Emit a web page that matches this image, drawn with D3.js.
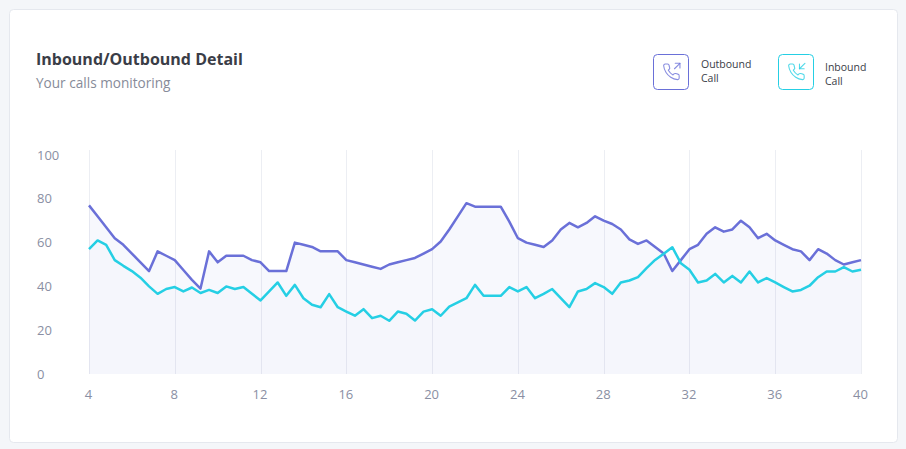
<!DOCTYPE html>
<html>
<head>
<meta charset="utf-8">
<script src="https://cdn.jsdelivr.net/npm/d3@7"></script>
<style>
  html, body { margin: 0; padding: 0; background: #f4f6f9; }
  body { width: 906px; height: 449px; overflow: hidden; font-family: "Open Sans", "Noto Sans", sans-serif; }
</style>
</head>
<body>
<div id="chart"></div>
<script>
// dữ liệu: trục x đi từ 4 tới 40, bước 0.4
const xValues = [
  4, 4.4, 4.8, 5.2, 5.6, 6, 6.4, 6.8, 7.2, 7.6,
  8, 8.4, 8.8, 9.2, 9.6, 10, 10.4, 10.8, 11.2, 11.6,
  12, 12.4, 12.8, 13.2, 13.6, 14, 14.4, 14.8, 15.2, 15.6,
  16, 16.4, 16.8, 17.2, 17.6, 18, 18.4, 18.8, 19.2, 19.6,
  20, 20.4, 20.8, 21.2, 21.6, 22, 22.4, 22.8, 23.2, 23.6,
  24, 24.4, 24.8, 25.2, 25.6, 26, 26.4, 26.8, 27.2, 27.6,
  28, 28.4, 28.8, 29.2, 29.6, 30, 30.4, 30.8, 31.2, 31.6,
  32, 32.4, 32.8, 33.2, 33.6, 34, 34.4, 34.8, 35.2, 35.6,
  36, 36.4, 36.8, 37.2, 37.6, 38, 38.4, 38.8, 39.2, 39.6,
  40
];

const outboundValues = [
  77, 72, 67, 62, 59, 55, 51, 47, 56, 54,
  52, 47.5, 43, 39, 56, 51, 54, 54, 54, 52,
  51, 47, 47, 47, 60, 59, 58, 56, 56, 56,
  52, 51, 50, 49, 48, 50, 51, 52, 53, 55,
  57, 60.5, 66, 72, 78, 76.4, 76.4, 76.4, 76.4, 69.6,
  62, 60, 59, 58, 61, 66, 69, 67, 69, 72,
  70, 68.5, 66, 61.5, 59.4, 61, 58, 55, 47, 52,
  57, 59, 64, 67, 65, 66, 70, 67, 62, 64,
  61, 59, 57, 56, 52, 57, 55, 52, 50, 51,
  52
];

const inboundValues = [
  57, 61, 59, 52, 49.4, 47, 44, 40, 36.6, 38.8,
  39.7, 37.7, 39.5, 37, 38.4, 37, 40, 38.8, 39.7, 36.6,
  33.6, 37.7, 41.8, 35.7, 40.7, 34.6, 31.6, 30.5, 36.5, 30.5,
  28.5, 26.6, 29.6, 25.5, 26.6, 24.3, 28.5, 27.5, 24.4, 28.5,
  29.6, 26.6, 30.8, 32.7, 34.6, 40.7, 35.7, 35.7, 35.7, 39.7,
  37.7, 39.7, 34.6, 36.6, 38.8, 34.6, 30.5, 37.7, 38.8, 41.5,
  39.7, 36.6, 41.8, 42.7, 44.2, 48.3, 52.1, 54.9, 57.9, 50.6,
  47.6, 41.8, 42.7, 45.7, 41.8, 44.8, 41.8, 46.8, 41.8, 43.8,
  41.8, 39.7, 37.7, 38.4, 40.3, 44.2, 46.8, 46.8, 48.8, 46.8,
  47.6
];

const xTicks = [4, 8, 12, 16, 20, 24, 28, 32, 36, 40];
const yTicks = [0, 20, 40, 60, 80, 100];

const seriesNames = [["Outbound", "Call"], ["Inbound", "Call"]];

(function () {
  const W = 906, H = 449;
  const cOut = "#6a70d8";
  const cIn = "#25cfe4";
  const textGrey = "#8a8fa3";

  const svg = d3.select("#chart").append("svg")
    .attr("width", W)
    .attr("height", H)
    .style("display", "block");

  // ==== card ====
  svg.append("rect")
    .attr("x", 9.5).attr("y", 9.5)
    .attr("width", 888).attr("height", 433)
    .attr("rx", 4)
    .attr("fill", "#fff")
    .attr("stroke", "#e5e8ee");

  // ==== title ====
  svg.append("text")
    .attr("x", 36).attr("y", 65)
    .attr("font-size", 16).attr("font-weight", 700)
    .attr("fill", "#3a3d47")
    .text("Inbound/Outbound Detail");

  svg.append("text")
    .attr("x", 36).attr("y", 88)
    .attr("font-size", 13.6)
    .attr("fill", "#878b99")
    .text("Your calls monitoring");

  // ==== scales ====
  const x = d3.scaleLinear().domain([4, 40]).range([89, 861]);
  const y = d3.scaleLinear().domain([0, 100]).range([374, 155]);

  const data = xValues.map((v, i) => ({ x: v, out: outboundValues[i], inb: inboundValues[i] }));

  // ==== gridlines dọc ====
  svg.append("g")
    .selectAll("line")
    .data(xTicks)
    .join("line")
      .attr("x1", d => Math.round(x(d)) + 0.5)
      .attr("x2", d => Math.round(x(d)) + 0.5)
      .attr("y1", 150)
      .attr("y2", y(0))
      .attr("stroke", "#eceef3");

  // ==== areas ====
  const areaOut = d3.area().x(d => x(d.x)).y0(y(0)).y1(d => y(d.out));
  const areaIn = d3.area().x(d => x(d.x)).y0(y(0)).y1(d => y(d.inb));

  svg.append("path").datum(data)
    .attr("d", areaOut)
    .attr("fill", cOut).attr("fill-opacity", 0.05);

  svg.append("path").datum(data)
    .attr("d", areaIn)
    .attr("fill", cOut).attr("fill-opacity", 0.015);

  // ==== lines ====
  const lineOut = d3.line().x(d => x(d.x)).y(d => y(d.out));
  const lineIn = d3.line().x(d => x(d.x)).y(d => y(d.inb));

  svg.append("path").datum(data)
    .attr("d", lineOut)
    .attr("fill", "none")
    .attr("stroke", cOut)
    .attr("stroke-width", 2.5)
    .attr("stroke-linejoin", "round");

  svg.append("path").datum(data)
    .attr("d", lineIn)
    .attr("fill", "none")
    .attr("stroke", cIn)
    .attr("stroke-width", 2.5)
    .attr("stroke-linejoin", "round");

  // ==== axes ====
  const xAxis = svg.append("g")
    .attr("transform", `translate(-1, 390)`)
    .call(d3.axisBottom(x).tickValues(xTicks).tickSize(0).tickPadding(0));
  xAxis.select(".domain").remove();
  xAxis.selectAll("text")
    .attr("dy", "0.71em")
    .attr("font-family", "Open Sans, Noto Sans, sans-serif")
    .attr("font-size", 13)
    .attr("fill", textGrey);

  const yAxis = svg.append("g")
    .attr("transform", `translate(37, 0)`)
    .call(d3.axisLeft(y).tickValues(yTicks).tickSize(0).tickPadding(0));
  yAxis.select(".domain").remove();
  yAxis.selectAll("text")
    .attr("text-anchor", "start")
    .attr("x", 0)
    .attr("font-family", "Open Sans, Noto Sans, sans-serif")
    .attr("font-size", 13)
    .attr("fill", textGrey);

  // ==== legend ====
  const phonePath = "M22 16.92v3a2 2 0 0 1-2.18 2 19.79 19.79 0 0 1-8.63-3.07 19.5 19.5 0 0 1-6-6 19.79 19.79 0 0 1-3.07-8.67A2 2 0 0 1 4.11 2h3a2 2 0 0 1 2 1.72 12.84 12.84 0 0 0 .7 2.81 2 2 0 0 1-.45 2.11L8.09 9.91a16 16 0 0 0 6 6l1.27-1.27a2 2 0 0 1 2.11-.45 12.84 12.84 0 0 0 2.81.7A2 2 0 0 1 22 16.92z";
  const legendItems = [
    { names: seriesNames[0], color: cOut, bx: 653.5, tx: 701, ty: 68, arrow: "out" },
    { names: seriesNames[1], color: cIn, bx: 778.5, tx: 825, ty: 71, arrow: "in" }
  ];

  legendItems.forEach(it => {
    const g = svg.append("g");
    g.append("rect")
      .attr("x", it.bx).attr("y", 54.5)
      .attr("width", 35).attr("height", 35)
      .attr("rx", 4)
      .attr("fill", "#fff")
      .attr("stroke", it.color)
      .attr("stroke-width", 1);

    const ic = g.append("g")
      .attr("transform", `translate(${it.bx + 8.5},${62.5}) scale(0.78)`)
      .attr("fill", "none")
      .attr("stroke", it.color)
      .attr("stroke-opacity", 0.8)
      .attr("stroke-width", 1.4)
      .attr("stroke-linecap", "round")
      .attr("stroke-linejoin", "round");
    ic.append("path").attr("d", phonePath);
    if (it.arrow === "out") {
      ic.append("polyline").attr("points", "17 1 23 1 23 7");
      ic.append("line").attr("x1", 16).attr("y1", 8).attr("x2", 23).attr("y2", 1);
    } else {
      ic.append("polyline").attr("points", "16 2 16 8 22 8");
      ic.append("line").attr("x1", 23).attr("y1", 1).attr("x2", 16).attr("y2", 8);
    }

    const t = g.append("text")
      .attr("x", it.tx).attr("y", it.ty)
      .attr("font-size", 10.5)
      .attr("fill", "#3a3d47");
    t.append("tspan").attr("x", it.tx).text(it.names[0]);
    t.append("tspan").attr("x", it.tx).attr("dy", 14).text(it.names[1]);
  });
})();
</script>
</body>
</html>
